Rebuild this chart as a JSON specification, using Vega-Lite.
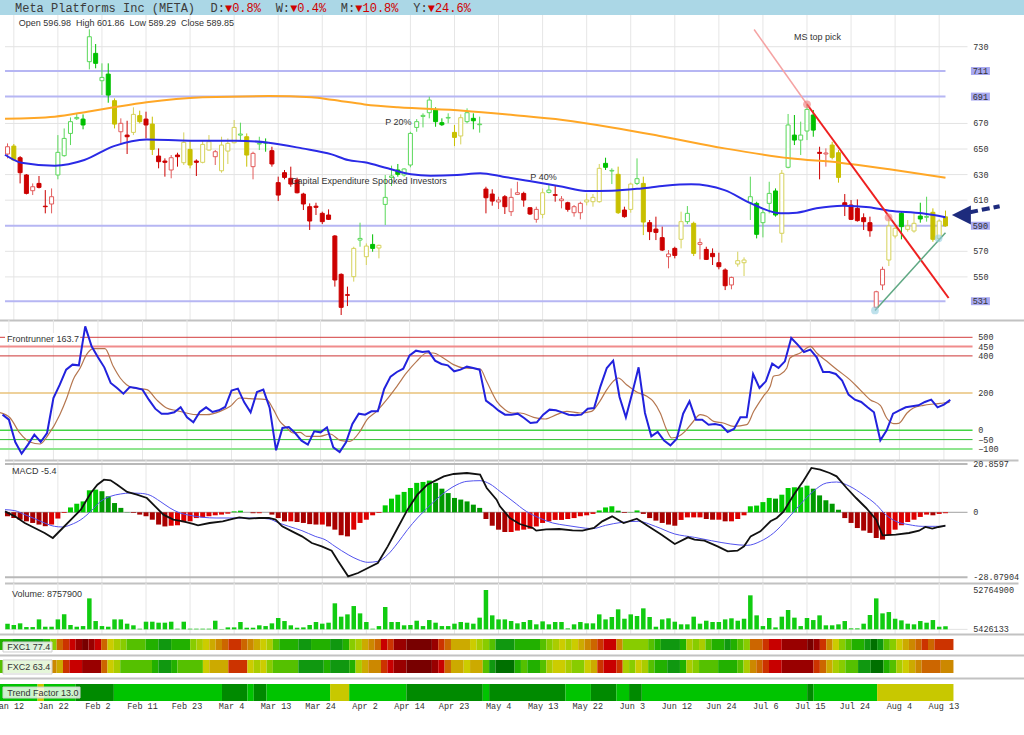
{
"$schema": "https://vega.github.io/schema/vega-lite/v6.json",
"background": "white",
"padding": {"left": -7, "top": 0, "right": 0, "bottom": 0},
"spacing": 0,
"bounds": "flush",
"config": {"view": {"stroke": null}, "font": "Liberation Sans"},
"datasets": {
  "hdr": [{"t": "Meta Platforms Inc (META)", "col": 0}, {"t": "D:", "col": 27}, {"t": "W:", "col": 36}, {"t": "M:", "col": 45}, {"t": "Y:", "col": 55}],
  "hdrRed": [{"t": "▼0.8%", "col": 29}, {"t": "▼0.4%", "col": 38}, {"t": "▼10.8%", "col": 47}, {"t": "▼24.6%", "col": 57}],
  "ticks": [{"i":1,"d":"Jan 12"},{"i":8,"d":"Jan 22"},{"i":15,"d":"Feb 2"},{"i":22,"d":"Feb 11"},{"i":29,"d":"Feb 23"},{"i":36,"d":"Mar 4"},{"i":43,"d":"Mar 13"},{"i":50,"d":"Mar 24"},{"i":57,"d":"Apr 2"},{"i":64,"d":"Apr 14"},{"i":71,"d":"Apr 23"},{"i":78,"d":"May 4"},{"i":85,"d":"May 13"},{"i":92,"d":"May 22"},{"i":99,"d":"Jun 3"},{"i":106,"d":"Jun 12"},{"i":113,"d":"Jun 24"},{"i":120,"d":"Jul 6"},{"i":127,"d":"Jul 15"},{"i":134,"d":"Jul 24"},{"i":141,"d":"Aug 4"},{"i":148,"d":"Aug 13"}],
  "lvl": [{"p": 711}, {"p": 691}, {"p": 590}, {"p": 531}],
  "plab": [{"p": 730}, {"p": 670}, {"p": 650}, {"p": 630}, {"p": 610}, {"p": 570}, {"p": 550}],
  "flab": [{"p": 500}, {"p": 450}, {"p": 400}, {"p": 200}, {"p": 0}, {"p": -50}, {"p": -100}],
  "mlab": [{"p": 20.8597, "t": "20.8597"}, {"p": 0, "t": "0"}, {"p": -28.07904, "t": "-28.07904"}],
  "vlab": [{"p": 52.7649, "t": "52764900"}, {"p": 5.426133, "t": "5426133"}],
  "bars": [
{"i":0,"o":646.1,"h":654.4,"l":642.7,"c":651.8,"k":"r","v":11.9,"m":-1.7,"f":84.1},
{"i":1,"o":652.3,"h":653.9,"l":640.9,"c":641.4,"k":"y","v":10.3,"m":-2.5,"f":57.2},
{"i":2,"o":643.2,"h":644.5,"l":623.1,"c":631.5,"k":"r","v":12.3,"m":-3.2,"f":-62.9},
{"i":3,"o":629.7,"h":630.4,"l":614.5,"c":615.3,"k":"r","v":7.8,"m":-3.9,"f":-125.6},
{"i":4,"o":617.4,"h":623.1,"l":614.0,"c":620.5,"k":"r","v":7.8,"m":-4.6,"f":-77.2},
{"i":5,"o":623.1,"h":628.9,"l":619.2,"c":620.0,"k":"r","v":17.1,"m":-5.3,"f":-23.5},
{"i":6,"o":605.3,"h":617.9,"l":599.7,"c":604.9,"k":"r","v":8.2,"m":-6.0,"f":-62.9},
{"i":7,"o":607.0,"h":619.2,"l":599.7,"c":612.7,"k":"r","v":8.2,"m":-5.3,"f":-14.5},
{"i":8,"o":629.7,"h":660.9,"l":626.3,"c":647.4,"k":"g","v":17.1,"m":-2.7,"f":173.7},
{"i":9,"o":644.8,"h":666.1,"l":644.0,"c":658.3,"k":"g","v":23.2,"m":-0.3,"f":245.4},
{"i":10,"o":662.2,"h":674.7,"l":653.1,"c":671.4,"k":"g","v":10.3,"m":2.1,"f":326.0},
{"i":11,"o":673.7,"h":677.9,"l":672.7,"c":674.7,"k":"g","v":8.2,"m":3.7,"f":352.9},
{"i":12,"o":673.4,"h":677.1,"l":665.4,"c":668.8,"k":"g","v":9.0,"m":4.7,"f":349.3},
{"i":13,"o":718.3,"h":743.6,"l":712.3,"c":737.8,"k":"g","v":42.6,"m":9.5,"f":559.0},
{"i":14,"o":724.8,"h":732.1,"l":713.1,"c":717.0,"k":"g","v":15.1,"m":9.8,"f":451.4},
{"i":15,"o":703.4,"h":717.0,"l":692.2,"c":706.0,"k":"g","v":9.0,"m":9.1,"f":392.3},
{"i":16,"o":708.6,"h":717.0,"l":686.2,"c":692.2,"k":"g","v":8.2,"m":6.9,"f":338.5},
{"i":17,"o":687.8,"h":689.6,"l":666.1,"c":669.5,"k":"y","v":17.1,"m":4.0,"f":254.3},
{"i":18,"o":663.5,"h":674.0,"l":654.4,"c":670.1,"k":"r","v":17.1,"m":1.9,"f":227.4},
{"i":19,"o":660.9,"h":672.1,"l":646.1,"c":659.6,"k":"r","v":11.9,"m":0.1,"f":197.0},
{"i":20,"o":663.0,"h":682.6,"l":660.9,"c":677.1,"k":"y","v":9.9,"m":-0.3,"f":232.8},
{"i":21,"o":676.1,"h":680.0,"l":670.1,"c":671.4,"k":"y","v":5.8,"m":-1.0,"f":227.4},
{"i":22,"o":673.4,"h":679.2,"l":658.3,"c":668.8,"k":"r","v":14.3,"m":-1.7,"f":218.5},
{"i":23,"o":669.5,"h":675.3,"l":645.3,"c":649.7,"k":"y","v":14.3,"m":-3.2,"f":164.7},
{"i":24,"o":644.5,"h":650.5,"l":634.9,"c":640.1,"k":"r","v":13.1,"m":-5.3,"f":116.3},
{"i":25,"o":640.6,"h":642.7,"l":628.4,"c":639.6,"k":"r","v":13.1,"m":-6.1,"f":89.4},
{"i":26,"o":633.6,"h":645.3,"l":627.1,"c":643.2,"k":"r","v":14.3,"m":-5.8,"f":89.4},
{"i":27,"o":645.3,"h":647.1,"l":636.2,"c":644.0,"k":"r","v":5.8,"m":-5.6,"f":96.6},
{"i":28,"o":639.3,"h":663.0,"l":637.5,"c":655.2,"k":"y","v":14.3,"m":-4.3,"f":123.5},
{"i":29,"o":649.7,"h":657.0,"l":634.9,"c":637.5,"k":"y","v":5.8,"m":-3.9,"f":69.7},
{"i":30,"o":640.6,"h":641.9,"l":628.9,"c":639.6,"k":"r","v":5.8,"m":-2.5,"f":42.8},
{"i":31,"o":639.6,"h":657.0,"l":638.8,"c":653.6,"k":"y","v":5.8,"m":-2.2,"f":98.4},
{"i":32,"o":649.2,"h":660.9,"l":648.7,"c":655.7,"k":"y","v":5.8,"m":-1.7,"f":123.5},
{"i":33,"o":644.0,"h":649.2,"l":637.5,"c":647.9,"k":"r","v":15.5,"m":-1.3,"f":98.4},
{"i":34,"o":633.0,"h":659.6,"l":631.5,"c":653.1,"k":"y","v":5.43,"m":-1.0,"f":107.4},
{"i":35,"o":648.4,"h":658.3,"l":638.3,"c":654.4,"k":"y","v":7.4,"m":-0.6,"f":125.3},
{"i":36,"o":654.9,"h":672.7,"l":654.4,"c":666.9,"k":"y","v":7.4,"m":0.4,"f":213.1},
{"i":37,"o":660.9,"h":670.6,"l":656.5,"c":661.7,"k":"g","v":13.9,"m":0.7,"f":223.9},
{"i":38,"o":659.6,"h":662.2,"l":636.2,"c":645.3,"k":"y","v":7.0,"m":0.0,"f":150.4},
{"i":39,"o":636.2,"h":647.9,"l":626.3,"c":646.6,"k":"r","v":7.0,"m":-0.4,"f":96.6},
{"i":40,"o":653.9,"h":659.6,"l":649.2,"c":654.4,"k":"g","v":9.9,"m":-0.4,"f":205.9},
{"i":41,"o":655.2,"h":658.3,"l":647.9,"c":654.7,"k":"g","v":9.0,"m":0.0,"f":218.5},
{"i":42,"o":648.7,"h":651.8,"l":636.2,"c":638.3,"k":"r","v":12.3,"m":-1.0,"f":120.0},
{"i":43,"o":623.7,"h":628.4,"l":609.3,"c":614.0,"k":"r","v":18.8,"m":-2.5,"f":-107.7},
{"i":44,"o":631.5,"h":633.6,"l":626.3,"c":627.8,"k":"r","v":15.1,"m":-3.9,"f":12.4},
{"i":45,"o":627.1,"h":636.2,"l":620.5,"c":622.6,"k":"r","v":9.9,"m":-3.9,"f":17.8},
{"i":46,"o":625.8,"h":627.6,"l":615.3,"c":615.8,"k":"r","v":7.0,"m":-4.2,"f":-14.5},
{"i":47,"o":614.8,"h":615.8,"l":602.3,"c":607.0,"k":"r","v":7.4,"m":-4.6,"f":-55.7},
{"i":48,"o":604.9,"h":607.5,"l":586.7,"c":593.7,"k":"r","v":10.3,"m":-5.1,"f":-77.2},
{"i":49,"o":605.3,"h":608.0,"l":598.4,"c":604.4,"k":"r","v":13.9,"m":-5.3,"f":-5.5},
{"i":50,"o":599.7,"h":601.0,"l":591.3,"c":593.2,"k":"r","v":11.9,"m":-5.3,"f":-10.9},
{"i":51,"o":598.4,"h":602.8,"l":594.5,"c":595.0,"k":"r","v":13.1,"m":-6.1,"f":16.0},
{"i":52,"o":582.0,"h":582.7,"l":542.4,"c":547.6,"k":"r","v":36.6,"m":-7.5,"f":-91.5},
{"i":53,"o":552.0,"h":552.8,"l":520.2,"c":526.2,"k":"r","v":20.4,"m":-9.9,"f":-116.6},
{"i":54,"o":536.1,"h":542.4,"l":527.2,"c":535.6,"k":"r","v":23.2,"m":-10.4,"f":-64.7},
{"i":55,"o":550.2,"h":573.6,"l":546.3,"c":572.3,"k":"y","v":33.3,"m":-7.5,"f":33.8},
{"i":56,"o":578.8,"h":592.4,"l":573.6,"c":580.1,"k":"g","v":24.4,"m":-4.6,"f":89.4},
{"i":57,"o":565.8,"h":576.2,"l":559.3,"c":574.1,"k":"y","v":13.9,"m":-3.2,"f":84.1},
{"i":58,"o":575.4,"h":583.3,"l":569.7,"c":572.3,"k":"g","v":5.8,"m":-1.3,"f":102.0},
{"i":59,"o":572.6,"h":575.2,"l":564.5,"c":574.7,"k":"y","v":9.0,"m":-0.3,"f":102.0},
{"i":60,"o":606.7,"h":629.7,"l":590.6,"c":612.2,"k":"g","v":32.1,"m":3.0,"f":222.1},
{"i":61,"o":627.8,"h":637.0,"l":621.1,"c":628.9,"k":"g","v":13.9,"m":5.9,"f":288.4},
{"i":62,"o":633.6,"h":638.3,"l":628.4,"c":630.2,"k":"g","v":13.9,"m":7.6,"f":313.5},
{"i":63,"o":629.7,"h":634.9,"l":628.4,"c":634.4,"k":"g","v":9.9,"m":8.8,"f":331.4},
{"i":64,"o":637.5,"h":663.5,"l":635.7,"c":662.2,"k":"g","v":10.3,"m":10.5,"f":403.1},
{"i":65,"o":666.9,"h":673.4,"l":663.5,"c":671.4,"k":"g","v":15.5,"m":12.7,"f":428.1},
{"i":66,"o":675.5,"h":677.9,"l":666.9,"c":676.3,"k":"g","v":9.0,"m":13.1,"f":421.0},
{"i":67,"o":678.4,"h":690.9,"l":674.0,"c":688.3,"k":"g","v":16.3,"m":13.7,"f":424.6},
{"i":68,"o":680.5,"h":682.6,"l":667.4,"c":671.4,"k":"g","v":13.1,"m":12.7,"f":374.4},
{"i":69,"o":670.6,"h":674.0,"l":668.0,"c":669.0,"k":"g","v":9.0,"m":10.2,"f":356.5},
{"i":70,"o":674.2,"h":677.9,"l":670.1,"c":674.7,"k":"g","v":9.0,"m":8.3,"f":349.3},
{"i":71,"o":663.0,"h":668.8,"l":652.3,"c":659.1,"k":"y","v":11.9,"m":6.2,"f":317.0},
{"i":72,"o":660.2,"h":677.1,"l":653.6,"c":674.5,"k":"y","v":13.9,"m":5.5,"f":326.0},
{"i":73,"o":671.4,"h":681.8,"l":670.1,"c":678.4,"k":"g","v":13.1,"m":4.7,"f":342.1},
{"i":74,"o":674.0,"h":677.9,"l":665.4,"c":672.1,"k":"g","v":11.9,"m":3.3,"f":335.0},
{"i":75,"o":669.0,"h":675.3,"l":662.8,"c":669.5,"k":"g","v":19.2,"m":1.9,"f":326.0},
{"i":76,"o":618.7,"h":620.5,"l":599.7,"c":611.9,"k":"r","v":52.76,"m":-2.9,"f":159.3},
{"i":77,"o":614.8,"h":618.5,"l":605.7,"c":609.3,"k":"r","v":22.0,"m":-5.8,"f":134.2},
{"i":78,"o":608.6,"h":612.7,"l":603.1,"c":610.1,"k":"r","v":17.1,"m":-7.5,"f":105.6},
{"i":79,"o":612.7,"h":614.0,"l":599.2,"c":604.9,"k":"r","v":17.1,"m":-8.5,"f":84.1},
{"i":80,"o":601.0,"h":619.2,"l":597.6,"c":612.2,"k":"r","v":15.1,"m":-8.5,"f":84.1},
{"i":81,"o":614.5,"h":624.4,"l":614.0,"c":615.8,"k":"r","v":12.3,"m":-7.9,"f":89.4},
{"i":82,"o":615.3,"h":616.6,"l":604.9,"c":610.1,"k":"r","v":13.9,"m":-7.5,"f":66.1},
{"i":83,"o":604.1,"h":604.4,"l":598.4,"c":599.2,"k":"r","v":16.3,"m":-7.1,"f":39.2},
{"i":84,"o":595.0,"h":604.9,"l":592.4,"c":602.8,"k":"r","v":11.1,"m":-6.1,"f":42.8},
{"i":85,"o":598.9,"h":619.2,"l":595.8,"c":615.8,"k":"y","v":14.7,"m":-4.6,"f":84.1},
{"i":86,"o":616.1,"h":621.8,"l":615.3,"c":617.9,"k":"g","v":11.1,"m":-3.9,"f":111.0},
{"i":87,"o":614.3,"h":621.1,"l":608.8,"c":613.8,"k":"r","v":13.9,"m":-3.3,"f":107.4},
{"i":88,"o":609.6,"h":613.2,"l":603.6,"c":610.9,"k":"r","v":13.9,"m":-3.3,"f":96.6},
{"i":89,"o":608.0,"h":608.8,"l":601.0,"c":602.8,"k":"r","v":6.2,"m":-2.9,"f":84.1},
{"i":90,"o":600.2,"h":606.2,"l":597.1,"c":604.9,"k":"r","v":11.1,"m":-2.5,"f":80.5},
{"i":91,"o":600.2,"h":608.8,"l":595.0,"c":607.5,"k":"r","v":13.9,"m":-1.7,"f":84.1},
{"i":92,"o":608.6,"h":615.3,"l":605.9,"c":610.1,"k":"y","v":12.3,"m":-1.3,"f":116.3},
{"i":93,"o":608.8,"h":614.8,"l":604.9,"c":612.2,"k":"y","v":12.3,"m":-0.7,"f":120.0},
{"i":94,"o":608.8,"h":638.3,"l":608.0,"c":634.9,"k":"y","v":23.2,"m":0.8,"f":236.4},
{"i":95,"o":638.8,"h":643.2,"l":633.6,"c":635.7,"k":"g","v":17.1,"m":2.1,"f":334.9},
{"i":96,"o":632.8,"h":634.9,"l":622.6,"c":633.3,"k":"g","v":20.0,"m":2.6,"f":374.4},
{"i":97,"o":630.2,"h":636.2,"l":599.2,"c":600.2,"k":"y","v":29.3,"m":0.7,"f":179.1},
{"i":98,"o":602.3,"h":604.9,"l":596.3,"c":597.1,"k":"r","v":17.9,"m":-0.3,"f":69.7},
{"i":99,"o":602.8,"h":623.7,"l":600.2,"c":622.6,"k":"y","v":23.2,"m":0.1,"f":200.5},
{"i":100,"o":623.1,"h":642.7,"l":621.8,"c":626.8,"k":"g","v":21.2,"m":0.8,"f":338.5},
{"i":101,"o":623.1,"h":628.4,"l":582.7,"c":592.9,"k":"y","v":30.5,"m":-0.7,"f":93.0},
{"i":102,"o":592.4,"h":594.5,"l":578.8,"c":585.4,"k":"r","v":20.0,"m":-2.5,"f":-32.4},
{"i":103,"o":587.4,"h":597.1,"l":578.8,"c":584.8,"k":"r","v":8.2,"m":-3.6,"f":-9.1},
{"i":104,"o":580.7,"h":589.3,"l":570.2,"c":571.0,"k":"r","v":17.1,"m":-4.6,"f":-55.7},
{"i":105,"o":565.8,"h":571.0,"l":556.7,"c":567.9,"k":"r","v":18.4,"m":-5.3,"f":-80.8},
{"i":106,"o":572.3,"h":573.6,"l":564.5,"c":566.8,"k":"r","v":14.3,"m":-5.8,"f":-44.9},
{"i":107,"o":579.4,"h":601.0,"l":572.3,"c":593.2,"k":"y","v":11.1,"m":-3.3,"f":89.4},
{"i":108,"o":593.2,"h":605.4,"l":591.3,"c":599.7,"k":"g","v":11.1,"m":-2.2,"f":155.7},
{"i":109,"o":591.9,"h":593.2,"l":566.3,"c":568.4,"k":"y","v":20.4,"m":-2.2,"f":57.2},
{"i":110,"o":575.4,"h":580.1,"l":563.7,"c":576.8,"k":"r","v":11.9,"m":-2.2,"f":57.2},
{"i":111,"o":571.5,"h":573.6,"l":563.2,"c":563.7,"k":"r","v":15.5,"m":-2.9,"f":30.3},
{"i":112,"o":568.4,"h":572.3,"l":559.3,"c":565.8,"k":"r","v":13.9,"m":-3.2,"f":33.8},
{"i":113,"o":561.1,"h":568.9,"l":555.9,"c":558.0,"k":"r","v":13.9,"m":-3.2,"f":26.7},
{"i":114,"o":555.4,"h":556.7,"l":539.7,"c":543.1,"k":"r","v":17.1,"m":-3.9,"f":-9.1},
{"i":115,"o":543.7,"h":550.2,"l":540.3,"c":549.6,"k":"r","v":18.4,"m":-3.9,"f":7.0},
{"i":116,"o":560.1,"h":569.7,"l":558.0,"c":562.7,"k":"y","v":15.5,"m":-2.9,"f":69.7},
{"i":117,"o":561.1,"h":565.3,"l":550.7,"c":563.2,"k":"y","v":17.9,"m":-1.3,"f":69.7},
{"i":118,"o":608.0,"h":628.4,"l":594.5,"c":612.7,"k":"g","v":46.3,"m":2.6,"f":302.7},
{"i":119,"o":607.5,"h":608.8,"l":580.1,"c":583.3,"k":"g","v":22.0,"m":2.9,"f":227.4},
{"i":120,"o":592.4,"h":602.8,"l":580.9,"c":600.2,"k":"g","v":9.0,"m":4.4,"f":263.3},
{"i":121,"o":607.5,"h":624.4,"l":599.7,"c":615.3,"k":"g","v":18.8,"m":6.2,"f":358.3},
{"i":122,"o":617.2,"h":619.2,"l":597.1,"c":598.4,"k":"g","v":7.4,"m":5.9,"f":334.9},
{"i":123,"o":584.1,"h":633.6,"l":576.8,"c":631.0,"k":"y","v":20.4,"m":7.6,"f":370.8},
{"i":124,"o":635.7,"h":677.4,"l":634.9,"c":668.8,"k":"g","v":28.5,"m":10.5,"f":496.2},
{"i":125,"o":660.9,"h":676.6,"l":653.1,"c":657.0,"k":"g","v":19.2,"m":10.8,"f":460.4},
{"i":126,"o":657.0,"h":671.4,"l":645.3,"c":660.9,"k":"g","v":9.0,"m":10.8,"f":420.9},
{"i":127,"o":664.1,"h":685.7,"l":657.0,"c":681.0,"k":"g","v":18.8,"m":11.5,"f":433.5},
{"i":128,"o":676.6,"h":680.5,"l":659.6,"c":664.8,"k":"g","v":16.3,"m":10.2,"f":392.3},
{"i":129,"o":647.4,"h":651.8,"l":626.3,"c":646.6,"k":"r","v":22.0,"m":7.3,"f":313.5},
{"i":130,"o":646.1,"h":650.5,"l":636.2,"c":646.9,"k":"r","v":9.9,"m":5.2,"f":313.5},
{"i":131,"o":653.1,"h":655.7,"l":641.9,"c":643.5,"k":"y","v":9.9,"m":3.7,"f":302.7},
{"i":132,"o":647.1,"h":649.2,"l":623.7,"c":627.8,"k":"y","v":11.1,"m":1.1,"f":266.9},
{"i":133,"o":608.0,"h":614.8,"l":597.6,"c":606.2,"k":"r","v":15.1,"m":-2.5,"f":191.7},
{"i":134,"o":606.2,"h":610.1,"l":594.5,"c":595.0,"k":"r","v":6.2,"m":-4.6,"f":164.7},
{"i":135,"o":603.6,"h":610.6,"l":593.2,"c":594.0,"k":"r","v":6.2,"m":-6.8,"f":152.2},
{"i":136,"o":596.3,"h":599.7,"l":586.7,"c":593.2,"k":"r","v":11.9,"m":-7.9,"f":123.5},
{"i":137,"o":592.4,"h":597.1,"l":581.4,"c":586.1,"k":"r","v":22.4,"m":-8.9,"f":96.6},
{"i":138,"o":526.2,"h":539.2,"l":524.6,"c":538.4,"k":"r","v":42.6,"m":-11.1,"f":-53.9},
{"i":139,"o":543.7,"h":558.0,"l":539.7,"c":555.9,"k":"r","v":24.4,"m":-11.8,"f":-0.2},
{"i":140,"o":563.2,"h":595.8,"l":558.5,"c":589.8,"k":"y","v":26.0,"m":-9.9,"f":89.4},
{"i":141,"o":582.0,"h":590.6,"l":580.1,"c":588.0,"k":"y","v":17.9,"m":-7.5,"f":107.4},
{"i":142,"o":599.7,"h":601.0,"l":579.4,"c":589.3,"k":"g","v":15.9,"m":-5.6,"f":123.5},
{"i":143,"o":587.2,"h":594.5,"l":585.4,"c":589.8,"k":"y","v":11.9,"m":-4.2,"f":128.9},
{"i":144,"o":585.9,"h":599.7,"l":584.6,"c":591.9,"k":"y","v":11.1,"m":-3.2,"f":134.2},
{"i":145,"o":597.6,"h":608.0,"l":592.4,"c":595.3,"k":"g","v":15.1,"m":-2.0,"f":152.2},
{"i":146,"o":596.6,"h":612.7,"l":593.2,"c":597.3,"k":"g","v":13.1,"m":-1.0,"f":164.7},
{"i":147,"o":600.5,"h":603.6,"l":577.5,"c":579.4,"k":"y","v":16.3,"m":-1.3,"f":123.5},
{"i":148,"o":580.1,"h":595.0,"l":577.5,"c":593.7,"k":"y","v":8.2,"m":-0.7,"f":137.8},
{"i":149,"o":596.98,"h":601.86,"l":589.29,"c":589.85,"k":"y","v":8.76,"m":-0.4,"f":163.7}
  ],
  "ma50": [{"i":-0.4,"v":645.5},{"i":2.2,"v":639.3},{"i":7.5,"v":637.0},{"i":12.2,"v":641.4},{"i":16.9,"v":652.3},{"i":22.1,"v":657.5},{"i":29,"v":656.5},{"i":36.3,"v":656.5},{"i":41.5,"v":654.9},{"i":46.8,"v":650.5},{"i":51.5,"v":645.8},{"i":54.1,"v":641.4},{"i":56.7,"v":639.6},{"i":60.4,"v":634.9},{"i":64.1,"v":630.2},{"i":67.2,"v":629.1},{"i":71.4,"v":629.7},{"i":75.1,"v":631.0},{"i":78.7,"v":628.4},{"i":82.9,"v":625.0},{"i":88.2,"v":620.5},{"i":91.8,"v":617.2},{"i":96.0,"v":617.4},{"i":100.7,"v":619.2},{"i":104.4,"v":621.3},{"i":108.6,"v":622.4},{"i":113.9,"v":617.9},{"i":118.1,"v":607.5},{"i":122.8,"v":599.7},{"i":125.4,"v":600.2},{"i":128.5,"v":603.6},{"i":132.7,"v":605.7},{"i":136.9,"v":604.4},{"i":140.1,"v":601.8},{"i":145.3,"v":599.7},{"i":149,"v":596.6}],
  "ma200": [{"i":-0.4,"v":673.7},{"i":7.5,"v":675.3},{"i":12.7,"v":679.2},{"i":16.9,"v":682.6},{"i":22.1,"v":686.5},{"i":31.0,"v":690.4},{"i":41.5,"v":691.4},{"i":48.3,"v":690.4},{"i":51.5,"v":688.5},{"i":56.7,"v":684.9},{"i":62.0,"v":682.6},{"i":72.4,"v":680.0},{"i":80.3,"v":676.6},{"i":88.2,"v":672.7},{"i":96.0,"v":666.9},{"i":103.4,"v":660.4},{"i":113.9,"v":650.5},{"i":124.3,"v":642.7},{"i":132.2,"v":639.3},{"i":140.1,"v":634.1},{"i":149.0,"v":627.6}],
  "tl": [{"g":"pink","i":118.6,"v":743.5},{"g":"pink","i":127.0,"v":685},{"g":"red","i":127.0,"v":685},{"g":"red","i":149.5,"v":533.5},{"g":"green","i":137.8,"v":523.8},{"g":"green","i":149.0,"v":584.6}],
  "dots": [{"g":"r","i":127.0,"v":685},{"g":"r","i":139.96,"v":596.5},{"g":"b","i":137.8,"v":523.8},{"g":"b","i":147.9,"v":580.2}],
  "notes": [{"t":"Open 596.98 \u00a0High 601.86 \u00a0Low 589.29 \u00a0Close 589.85","i":1.8,"p":748.5},{"t":"MS top pick","i":124.95,"p":737.8},{"t":"P 20%","i":60.0,"p":671.4},{"t":"P 40%","i":83.05,"p":628.0},{"t":"Capital Expenditure Spooked Investors","i":45.04,"p":625.0}],
  "frs": [{"i":-0.4,"v":95},{"i":1.2,"v":66.2},{"i":2.7,"v":-14.5},{"i":4.3,"v":-62.9},{"i":5.9,"v":-73.6},{"i":7.2,"v":-23.5},{"i":9.0,"v":84.1},{"i":10.1,"v":173.7},{"i":11.1,"v":272.2},{"i":12.2,"v":334.9},{"i":13.2,"v":406.6},{"i":14.3,"v":438.9},{"i":16.1,"v":438.9},{"i":17.4,"v":343.9},{"i":18.5,"v":281.2},{"i":19.5,"v":245.4},{"i":20.6,"v":227.4},{"i":22.7,"v":218.5},{"i":24.2,"v":164.7},{"i":25.8,"v":119.9},{"i":27.4,"v":105.6},{"i":28.9,"v":93.0},{"i":30.5,"v":84.1},{"i":32.1,"v":84.1},{"i":34.2,"v":102.0},{"i":35.8,"v":128.9},{"i":37.3,"v":173.7},{"i":38.9,"v":170.1},{"i":41.5,"v":164.7},{"i":42.6,"v":110.9},{"i":43.6,"v":48.2},{"i":44.7,"v":12.4},{"i":45.7,"v":-14.5},{"i":46.8,"v":-10.9},{"i":47.8,"v":-32.4},{"i":49.9,"v":-32.4},{"i":51.5,"v":-19.9},{"i":53.1,"v":-53.9},{"i":54.6,"v":-59.3},{"i":56.2,"v":-5.5},{"i":57.3,"v":57.2},{"i":58.8,"v":102.0},{"i":60.4,"v":164.7},{"i":62.0,"v":236.4},{"i":63.5,"v":308.1},{"i":65.1,"v":370.8},{"i":66.7,"v":415.6},{"i":67.7,"v":415.6},{"i":69.3,"v":388.7},{"i":70.9,"v":352.9},{"i":72.5,"v":334.9},{"i":75.1,"v":329.6},{"i":76.1,"v":263.3},{"i":77.7,"v":155.7},{"i":79.0,"v":110.9},{"i":80.1,"v":93.0},{"i":81.4,"v":93.0},{"i":83.5,"v":69.7},{"i":85.3,"v":60.7},{"i":87.1,"v":84.1},{"i":88.7,"v":102.0},{"i":90.8,"v":93.0},{"i":92.6,"v":102.0},{"i":93.9,"v":155.7},{"i":95.0,"v":218.5},{"i":96.0,"v":263.3},{"i":96.8,"v":281.2},{"i":98.1,"v":245.4},{"i":99.7,"v":206.0},{"i":101.3,"v":182.7},{"i":102.3,"v":155.7},{"i":103.4,"v":93.0},{"i":104.4,"v":3.4},{"i":105.2,"v":-41.4},{"i":106.3,"v":-32.4},{"i":107.3,"v":-5.5},{"i":108.4,"v":39.3},{"i":109.7,"v":84.1},{"i":110.7,"v":75.1},{"i":111.8,"v":48.2},{"i":113.3,"v":39.3},{"i":114.9,"v":21.4},{"i":117.0,"v":30.3},{"i":118.1,"v":102.0},{"i":119.6,"v":182.7},{"i":120.7,"v":236.4},{"i":121.2,"v":290.2},{"i":122.2,"v":299.1},{"i":123.3,"v":335.0},{"i":123.8,"v":388.7},{"i":125.4,"v":415.6},{"i":127.0,"v":451.4},{"i":128.0,"v":415.6},{"i":129.6,"v":370.8},{"i":131.2,"v":326.0},{"i":133.2,"v":272.2},{"i":134.8,"v":218.5},{"i":136.4,"v":164.7},{"i":138.0,"v":134.2},{"i":139.0,"v":66.2},{"i":140.1,"v":35.7},{"i":140.9,"v":37.5},{"i":142.2,"v":93.0},{"i":143.2,"v":119.9},{"i":144.8,"v":134.2},{"i":146.4,"v":141.4},{"i":147.9,"v":146.8},{"i":148.9,"v":150.4}],
  "macd": [{"i":-0.4,"v":0.4},{"i":1.17,"v":-1.74},{"i":2.74,"v":-4.6},{"i":4.32,"v":-6.78},{"i":5.89,"v":-8.94},{"i":7.2,"v":-11.1},{"i":8.77,"v":-6.78},{"i":10.08,"v":-3.18},{"i":11.65,"v":1.14},{"i":13.23,"v":8.33},{"i":14.28,"v":11.93},{"i":15.32,"v":14.09},{"i":16.37,"v":13.8},{"i":17.42,"v":11.93},{"i":19.0,"v":8.77},{"i":20.56,"v":7.61},{"i":22.14,"v":6.17},{"i":23.45,"v":2.58},{"i":24.76,"v":-1.02},{"i":26.33,"v":-3.18},{"i":27.9,"v":-3.9},{"i":29.47,"v":-5.05},{"i":30.26,"v":-5.63},{"i":32.1,"v":-4.62},{"i":34.19,"v":-3.9},{"i":35.76,"v":-2.89},{"i":36.81,"v":-2.17},{"i":38.38,"v":-2.75},{"i":39.96,"v":-2.46},{"i":41.53,"v":-2.46},{"i":42.58,"v":-3.18},{"i":43.63,"v":-6.06},{"i":45.2,"v":-8.22},{"i":46.77,"v":-10.38},{"i":48.34,"v":-13.26},{"i":49.91,"v":-14.7},{"i":51.49,"v":-16.57},{"i":52.53,"v":-21.17},{"i":54.11,"v":-27.65},{"i":55.68,"v":-26.21},{"i":57.25,"v":-24.05},{"i":58.82,"v":-21.89},{"i":60.4,"v":-14.7},{"i":61.97,"v":-6.78},{"i":63.54,"v":1.14},{"i":65.11,"v":7.61},{"i":66.69,"v":11.93},{"i":67.73,"v":13.37},{"i":69.31,"v":15.53},{"i":70.88,"v":16.54},{"i":72.98,"v":16.97},{"i":75.07,"v":16.25},{"i":76.12,"v":10.49},{"i":77.69,"v":5.45},{"i":78.22,"v":2.58},{"i":79.79,"v":-2.46},{"i":81.36,"v":-5.05},{"i":83.46,"v":-6.78},{"i":83.99,"v":-7.93},{"i":85.56,"v":-7.35},{"i":87.65,"v":-7.21},{"i":89.75,"v":-7.79},{"i":91.32,"v":-7.93},{"i":93.16,"v":-6.78},{"i":94.47,"v":-3.9},{"i":96.04,"v":-1.74},{"i":97.87,"v":-4.62},{"i":99.97,"v":-2.75},{"i":101.8,"v":-6.06},{"i":103.9,"v":-9.66},{"i":106.0,"v":-13.69},{"i":108.1,"v":-10.81},{"i":109.14,"v":-11.82},{"i":110.7,"v":-12.25},{"i":112.8,"v":-14.7},{"i":114.4,"v":-16.86},{"i":115.96,"v":-16.57},{"i":117.0,"v":-14.7},{"i":118.05,"v":-10.38},{"i":119.6,"v":-8.22},{"i":121.2,"v":-3.9},{"i":122.2,"v":-2.46},{"i":123.3,"v":0.42},{"i":124.9,"v":7.61},{"i":126.4,"v":13.37},{"i":127.7,"v":19.13},{"i":129.1,"v":18.41},{"i":130.6,"v":16.97},{"i":131.7,"v":15.53},{"i":133.3,"v":10.49},{"i":134.8,"v":6.17},{"i":136.4,"v":1.86},{"i":138.0,"v":-3.18},{"i":139.0,"v":-9.95},{"i":141.1,"v":-9.66},{"i":143.2,"v":-8.94},{"i":144.8,"v":-7.93},{"i":145.8,"v":-6.35},{"i":146.9,"v":-7.07},{"i":147.9,"v":-6.35},{"i":149.0,"v":-5.8}],
  "sig": [{"i":-0.4,"v":1.14},{"i":1.17,"v":0.71},{"i":2.74,"v":-1.02},{"i":4.32,"v":-2.75},{"i":5.89,"v":-4.62},{"i":7.46,"v":-6.06},{"i":8.77,"v":-6.35},{"i":10.08,"v":-5.34},{"i":11.65,"v":-3.18},{"i":13.23,"v":0.42},{"i":14.8,"v":4.74},{"i":16.37,"v":6.9},{"i":17.94,"v":7.9},{"i":19.52,"v":8.33},{"i":21.09,"v":8.19},{"i":22.66,"v":7.33},{"i":24.23,"v":4.74},{"i":25.8,"v":1.86},{"i":27.38,"v":-0.3},{"i":28.95,"v":-1.3},{"i":31.05,"v":-2.17},{"i":33.14,"v":-2.46},{"i":35.24,"v":-2.46},{"i":37.34,"v":-2.46},{"i":39.43,"v":-2.46},{"i":41.53,"v":-2.89},{"i":43.1,"v":-4.62},{"i":44.67,"v":-6.06},{"i":46.77,"v":-7.93},{"i":48.87,"v":-10.38},{"i":50.44,"v":-11.82},{"i":52.01,"v":-14.7},{"i":54.11,"v":-18.3},{"i":55.68,"v":-20.45},{"i":57.25,"v":-21.6},{"i":58.82,"v":-21.17},{"i":60.4,"v":-18.3},{"i":61.97,"v":-13.26},{"i":63.54,"v":-7.5},{"i":65.11,"v":-2.46},{"i":66.69,"v":1.86},{"i":68.26,"v":5.89},{"i":69.83,"v":9.34},{"i":71.4,"v":11.93},{"i":72.98,"v":13.37},{"i":75.07,"v":13.66},{"i":76.64,"v":12.22},{"i":78.22,"v":9.05},{"i":80.3,"v":4.74},{"i":82.4,"v":0.42},{"i":84.5,"v":-2.46},{"i":86.6,"v":-4.62},{"i":88.7,"v":-5.63},{"i":90.8,"v":-6.49},{"i":92.9,"v":-7.07},{"i":95.0,"v":-5.63},{"i":97.6,"v":-4.33},{"i":100.2,"v":-3.9},{"i":102.9,"v":-6.06},{"i":106.0,"v":-9.37},{"i":109.1,"v":-10.81},{"i":111.8,"v":-12.25},{"i":114.9,"v":-13.69},{"i":117.5,"v":-14.27},{"i":119.6,"v":-12.54},{"i":121.7,"v":-8.94},{"i":123.8,"v":-3.18},{"i":125.9,"v":3.3},{"i":128.0,"v":9.05},{"i":130.1,"v":12.65},{"i":131.7,"v":13.08},{"i":133.8,"v":11.21},{"i":135.9,"v":7.61},{"i":138.0,"v":3.3},{"i":139.5,"v":-1.02},{"i":141.1,"v":-3.9},{"i":143.2,"v":-5.34},{"i":145.3,"v":-6.06},{"i":147.4,"v":-6.06},{"i":148.9,"v":-6.06}],
  "fx1": [{"s":-0.4,"e":1.5,"v":11},{"s":1.5,"e":6.5,"v":12},{"s":6.5,"e":7.5,"v":11},{"s":7.5,"e":8.5,"v":9},{"s":8.5,"e":9.5,"v":4},{"s":9.5,"e":10.5,"v":3},{"s":10.5,"e":11.5,"v":2},{"s":11.5,"e":12.5,"v":1},{"s":12.5,"e":13.5,"v":0},{"s":13.5,"e":14.5,"v":1},{"s":14.5,"e":15.5,"v":2},{"s":15.5,"e":16.5,"v":4},{"s":16.5,"e":17.5,"v":7},{"s":17.5,"e":18.5,"v":8},{"s":18.5,"e":19.5,"v":9},{"s":19.5,"e":22.5,"v":10},{"s":22.5,"e":24.5,"v":11},{"s":24.5,"e":26.5,"v":12},{"s":26.5,"e":29.5,"v":11},{"s":29.5,"e":30.5,"v":9},{"s":30.5,"e":31.5,"v":8},{"s":31.5,"e":32.5,"v":7},{"s":32.5,"e":33.5,"v":6},{"s":33.5,"e":34.5,"v":5},{"s":34.5,"e":35.5,"v":4},{"s":35.5,"e":37.5,"v":3},{"s":37.5,"e":38.5,"v":4},{"s":38.5,"e":39.5,"v":5},{"s":39.5,"e":40.5,"v":6},{"s":40.5,"e":41.5,"v":7},{"s":41.5,"e":42.5,"v":8},{"s":42.5,"e":43.5,"v":10},{"s":43.5,"e":46.5,"v":11},{"s":46.5,"e":48.5,"v":12},{"s":48.5,"e":51.5,"v":11},{"s":51.5,"e":53.5,"v":12},{"s":53.5,"e":54.5,"v":11},{"s":54.5,"e":55.5,"v":9},{"s":55.5,"e":56.5,"v":8},{"s":56.5,"e":57.5,"v":6},{"s":57.5,"e":58.5,"v":5},{"s":58.5,"e":59.5,"v":4},{"s":59.5,"e":60.5,"v":2},{"s":60.5,"e":61.5,"v":3},{"s":61.5,"e":63.5,"v":1},{"s":63.5,"e":67.5,"v":0},{"s":67.5,"e":68.5,"v":1},{"s":68.5,"e":69.5,"v":3},{"s":69.5,"e":70.5,"v":4},{"s":70.5,"e":73.5,"v":6},{"s":73.5,"e":74.5,"v":7},{"s":74.5,"e":75.5,"v":8},{"s":75.5,"e":76.5,"v":9},{"s":76.5,"e":77.5,"v":10},{"s":77.5,"e":80.5,"v":12},{"s":80.5,"e":84.5,"v":11},{"s":84.5,"e":85.5,"v":10},{"s":85.5,"e":86.5,"v":9},{"s":86.5,"e":87.5,"v":8},{"s":87.5,"e":88.5,"v":7},{"s":88.5,"e":89.5,"v":8},{"s":89.5,"e":90.5,"v":7},{"s":90.5,"e":91.5,"v":6},{"s":91.5,"e":92.5,"v":5},{"s":92.5,"e":93.5,"v":4},{"s":93.5,"e":94.5,"v":3},{"s":94.5,"e":96.5,"v":2},{"s":96.5,"e":97.5,"v":5},{"s":97.5,"e":101.5,"v":9},{"s":101.5,"e":102.5,"v":10},{"s":102.5,"e":103.5,"v":11},{"s":103.5,"e":106.5,"v":12},{"s":106.5,"e":107.5,"v":11},{"s":107.5,"e":108.5,"v":8},{"s":108.5,"e":109.5,"v":9},{"s":109.5,"e":110.5,"v":8},{"s":110.5,"e":111.5,"v":10},{"s":111.5,"e":113.5,"v":11},{"s":113.5,"e":114.5,"v":12},{"s":114.5,"e":115.5,"v":11},{"s":115.5,"e":116.5,"v":10},{"s":116.5,"e":117.5,"v":9},{"s":117.5,"e":119.5,"v":4},{"s":119.5,"e":120.5,"v":3},{"s":120.5,"e":122.5,"v":2},{"s":122.5,"e":126.5,"v":1},{"s":126.5,"e":127.5,"v":0},{"s":127.5,"e":128.5,"v":1},{"s":128.5,"e":129.5,"v":3},{"s":129.5,"e":130.5,"v":5},{"s":130.5,"e":131.5,"v":7},{"s":131.5,"e":132.5,"v":9},{"s":132.5,"e":133.5,"v":10},{"s":133.5,"e":135.5,"v":11},{"s":135.5,"e":136.5,"v":12},{"s":136.5,"e":137.5,"v":13},{"s":137.5,"e":138.5,"v":12},{"s":138.5,"e":139.5,"v":10},{"s":139.5,"e":140.5,"v":9},{"s":140.5,"e":141.5,"v":7},{"s":141.5,"e":142.5,"v":6},{"s":142.5,"e":143.5,"v":5},{"s":143.5,"e":144.5,"v":4},{"s":144.5,"e":145.5,"v":3},{"s":145.5,"e":146.5,"v":4},{"s":146.5,"e":149.5,"v":3}],
  "fx2": [{"s":-0.4,"e":7.5,"v":10},{"s":7.5,"e":8.5,"v":5},{"s":8.5,"e":9.5,"v":6},{"s":9.5,"e":10.5,"v":3},{"s":10.5,"e":12.5,"v":2},{"s":12.5,"e":15.5,"v":1},{"s":15.5,"e":16.5,"v":4},{"s":16.5,"e":17.5,"v":7},{"s":17.5,"e":18.5,"v":8},{"s":18.5,"e":23.5,"v":10},{"s":23.5,"e":24.5,"v":11},{"s":24.5,"e":26.5,"v":12},{"s":26.5,"e":27.5,"v":11},{"s":27.5,"e":31.5,"v":10},{"s":31.5,"e":32.5,"v":7},{"s":32.5,"e":35.5,"v":6},{"s":35.5,"e":38.5,"v":3},{"s":38.5,"e":39.5,"v":7},{"s":39.5,"e":40.5,"v":8},{"s":40.5,"e":41.5,"v":7},{"s":41.5,"e":42.5,"v":9},{"s":42.5,"e":46.5,"v":10},{"s":46.5,"e":50.5,"v":12},{"s":50.5,"e":51.5,"v":11},{"s":51.5,"e":54.5,"v":12},{"s":54.5,"e":55.5,"v":11},{"s":55.5,"e":56.5,"v":8},{"s":56.5,"e":57.5,"v":6},{"s":57.5,"e":59.5,"v":5},{"s":59.5,"e":60.5,"v":3},{"s":60.5,"e":61.5,"v":2},{"s":61.5,"e":63.5,"v":1},{"s":63.5,"e":67.5,"v":0},{"s":67.5,"e":68.5,"v":1},{"s":68.5,"e":69.5,"v":2},{"s":69.5,"e":70.5,"v":4},{"s":70.5,"e":72.5,"v":6},{"s":72.5,"e":73.5,"v":7},{"s":73.5,"e":75.5,"v":6},{"s":75.5,"e":76.5,"v":10},{"s":76.5,"e":77.5,"v":12},{"s":77.5,"e":80.5,"v":13},{"s":80.5,"e":81.5,"v":11},{"s":81.5,"e":82.5,"v":10},{"s":82.5,"e":84.5,"v":11},{"s":84.5,"e":85.5,"v":10},{"s":85.5,"e":86.5,"v":8},{"s":86.5,"e":88.5,"v":7},{"s":88.5,"e":89.5,"v":8},{"s":89.5,"e":91.5,"v":9},{"s":91.5,"e":92.5,"v":7},{"s":92.5,"e":93.5,"v":6},{"s":93.5,"e":94.5,"v":3},{"s":94.5,"e":96.5,"v":2},{"s":96.5,"e":97.5,"v":3},{"s":97.5,"e":98.5,"v":8},{"s":98.5,"e":99.5,"v":9},{"s":99.5,"e":100.5,"v":7},{"s":100.5,"e":101.5,"v":8},{"s":101.5,"e":102.5,"v":10},{"s":102.5,"e":104.5,"v":11},{"s":104.5,"e":106.5,"v":12},{"s":106.5,"e":107.5,"v":11},{"s":107.5,"e":108.5,"v":8},{"s":108.5,"e":109.5,"v":9},{"s":109.5,"e":112.5,"v":10},{"s":112.5,"e":115.5,"v":11},{"s":115.5,"e":116.5,"v":10},{"s":116.5,"e":117.5,"v":8},{"s":117.5,"e":118.5,"v":5},{"s":118.5,"e":119.5,"v":4},{"s":119.5,"e":120.5,"v":3},{"s":120.5,"e":122.5,"v":2},{"s":122.5,"e":127.5,"v":1},{"s":127.5,"e":128.5,"v":3},{"s":128.5,"e":129.5,"v":4},{"s":129.5,"e":130.5,"v":6},{"s":130.5,"e":131.5,"v":8},{"s":131.5,"e":132.5,"v":9},{"s":132.5,"e":134.5,"v":10},{"s":134.5,"e":136.5,"v":12},{"s":136.5,"e":138.5,"v":13},{"s":138.5,"e":139.5,"v":11},{"s":139.5,"e":140.5,"v":10},{"s":140.5,"e":141.5,"v":8},{"s":141.5,"e":142.5,"v":7},{"s":142.5,"e":143.5,"v":6},{"s":143.5,"e":144.5,"v":5},{"s":144.5,"e":147.5,"v":4},{"s":147.5,"e":149.5,"v":5}],
  "tf": [{"s":-0.4,"e":5.5,"v":11},{"s":5.5,"e":6.5,"v":7},{"s":6.5,"e":11.5,"v":11},{"s":11.5,"e":17.5,"v":12},{"s":17.5,"e":34.5,"v":11},{"s":34.5,"e":38.5,"v":12},{"s":38.5,"e":39.5,"v":11},{"s":39.5,"e":41.5,"v":12},{"s":41.5,"e":51.5,"v":11},{"s":51.5,"e":54.5,"v":7},{"s":54.5,"e":63.5,"v":11},{"s":63.5,"e":75.5,"v":12},{"s":75.5,"e":76.5,"v":11},{"s":76.5,"e":88.5,"v":12},{"s":88.5,"e":92.5,"v":11},{"s":92.5,"e":96.5,"v":12},{"s":96.5,"e":98.5,"v":11},{"s":98.5,"e":100.5,"v":12},{"s":100.5,"e":126.5,"v":11},{"s":126.5,"e":127.5,"v":12},{"s":127.5,"e":137.5,"v":11},{"s":137.5,"e":149.5,"v":7}]
},
"vconcat": [
  {
    "width": 970, "height": 15,
    "data": {"values": [{}]},
    "layer": [
      {"mark": {"type": "rect", "color": "#abd7e6"},
       "encoding": {"x": {"datum": -2.072, "type": "quantitative", "scale": {"domain": [-2.072, 131.9], "nice": false, "zero": false}, "axis": null}, "x2": {"datum": 139.4}}},
      {"data": {"name": "hdr"}, "mark": {"type": "text", "align": "left", "baseline": "middle", "font": "Liberation Mono", "fontSize": 12, "color": "#3c3c3c"},
       "encoding": {"x": {"field": "col", "type": "quantitative", "axis": null}, "text": {"field": "t"}}},
      {"data": {"name": "hdrRed"}, "mark": {"type": "text", "align": "left", "baseline": "middle", "font": "Liberation Mono", "fontSize": 12, "color": "#d00000"},
       "encoding": {"x": {"field": "col", "type": "quantitative", "axis": null}, "text": {"field": "t"}}}
    ]
  },
  {
    "width": 970, "height": 305,
    "data": {"values": [{}]},
    "layer": [
      {"data": {"name": "ticks"}, "mark": {"type": "rule", "color": "#e6e6e6", "strokeWidth": 1},
       "encoding": {"x": {"field": "i", "type": "quantitative", "scale": {"domain": [-0.4, 152.1], "nice": false, "zero": false}, "axis": null}}},
      {"data": {"name": "plab"}, "mark": {"type": "rule", "color": "#e3e3e3", "strokeWidth": 1},
       "encoding": {"x": {"datum": -0.4, "axis": null}, "x2": {"datum": 152.5},
         "y": {"field": "p", "type": "quantitative", "scale": {"domain": [516.3, 754.8], "nice": false, "zero": false}, "axis": null}}},
      {"data": {"name": "plab"}, "mark": {"type": "text", "align": "left", "baseline": "middle", "font": "Liberation Mono", "fontSize": 8.5, "color": "#333333"},
       "encoding": {"x": {"datum": 153.4, "axis": null}, "y": {"field": "p", "type": "quantitative", "axis": null}, "text": {"field": "p", "type": "quantitative"}}},
      {"data": {"name": "lvl"}, "mark": {"type": "rule", "color": "#b6b6f3", "strokeWidth": 2},
       "encoding": {"x": {"datum": -0.4, "axis": null}, "x2": {"datum": 149}, "y": {"field": "p", "type": "quantitative", "axis": null}}},
      {"data": {"name": "bars"}, "transform": [{"filter": "datum.c >= datum.o"}], "mark": {"type": "rule", "strokeWidth": 1},
       "encoding": {"x": {"field": "i", "type": "quantitative", "axis": null}, "y": {"field": "l", "type": "quantitative", "axis": null}, "y2": {"field": "h"},
         "color": {"condition": [{"test": "datum.k === 'g'", "value": "#5ad85a"}, {"test": "datum.k === 'r'", "value": "#e25c5c"}], "value": "#d6d25a"}}},
      {"data": {"name": "bars"}, "transform": [{"filter": "datum.c < datum.o"}], "mark": {"type": "rule", "strokeWidth": 1},
       "encoding": {"x": {"field": "i", "type": "quantitative", "axis": null}, "y": {"field": "l", "type": "quantitative", "axis": null}, "y2": {"field": "h"},
         "color": {"condition": [{"test": "datum.k === 'g'", "value": "#00c000"}, {"test": "datum.k === 'r'", "value": "#cc0000"}], "value": "#c8c000"}}},
      {"data": {"name": "bars"}, "transform": [{"filter": "datum.c >= datum.o"}], "mark": {"type": "bar", "width": 4, "fill": "white", "strokeWidth": 1},
       "encoding": {"x": {"field": "i", "type": "quantitative", "axis": null}, "y": {"field": "o", "type": "quantitative", "axis": null}, "y2": {"field": "c"},
         "stroke": {"condition": [{"test": "datum.k === 'g'", "value": "#5ad85a"}, {"test": "datum.k === 'r'", "value": "#e25c5c"}], "value": "#d6d25a"}}},
      {"data": {"name": "bars"}, "transform": [{"filter": "datum.c < datum.o"}], "mark": {"type": "bar", "width": 4, "strokeWidth": 1},
       "encoding": {"x": {"field": "i", "type": "quantitative", "axis": null}, "y": {"field": "o", "type": "quantitative", "axis": null}, "y2": {"field": "c"},
         "fill": {"condition": [{"test": "datum.k === 'g'", "value": "#00c000"}, {"test": "datum.k === 'r'", "value": "#cc0000"}], "value": "#c8c000"},
         "stroke": {"condition": [{"test": "datum.k === 'g'", "value": "#00c000"}, {"test": "datum.k === 'r'", "value": "#cc0000"}], "value": "#c8c000"}}},
      {"data": {"name": "ma200"}, "mark": {"type": "line", "color": "#ffa726", "strokeWidth": 2, "interpolate": "monotone"},
       "encoding": {"x": {"field": "i", "type": "quantitative", "axis": null}, "y": {"field": "v", "type": "quantitative", "axis": null}}},
      {"data": {"name": "ma50"}, "mark": {"type": "line", "color": "#2a2ae6", "strokeWidth": 2, "interpolate": "monotone"},
       "encoding": {"x": {"field": "i", "type": "quantitative", "axis": null}, "y": {"field": "v", "type": "quantitative", "axis": null}}},
      {"data": {"name": "tl"}, "transform": [{"filter": "datum.g === 'pink'"}], "mark": {"type": "line", "color": "#f5a3a3", "strokeWidth": 1.5},
       "encoding": {"x": {"field": "i", "type": "quantitative", "axis": null}, "y": {"field": "v", "type": "quantitative", "axis": null}}},
      {"data": {"name": "tl"}, "transform": [{"filter": "datum.g === 'red'"}], "mark": {"type": "line", "color": "#ee2020", "strokeWidth": 2},
       "encoding": {"x": {"field": "i", "type": "quantitative", "axis": null}, "y": {"field": "v", "type": "quantitative", "axis": null}}},
      {"data": {"name": "tl"}, "transform": [{"filter": "datum.g === 'green'"}], "mark": {"type": "line", "color": "#5fa883", "strokeWidth": 1.5},
       "encoding": {"x": {"field": "i", "type": "quantitative", "axis": null}, "y": {"field": "v", "type": "quantitative", "axis": null}}},
      {"data": {"name": "dots"}, "mark": {"type": "point", "filled": true, "size": 60, "opacity": 0.6},
       "encoding": {"x": {"field": "i", "type": "quantitative", "axis": null}, "y": {"field": "v", "type": "quantitative", "axis": null},
         "color": {"condition": {"test": "datum.g === 'r'", "value": "#f07c7c"}, "value": "#93cde0"}}},
      {"data": {"name": "notes"}, "mark": {"type": "text", "align": "left", "baseline": "middle", "fontSize": 9, "color": "#333333"},
       "encoding": {"x": {"field": "i", "type": "quantitative", "axis": null}, "y": {"field": "p", "type": "quantitative", "axis": null}, "text": {"field": "t"}}},
      {"data": {"name": "lvl"}, "mark": {"type": "point", "shape": "M-1,-0.42L1,-0.42L1,0.42L-1,0.42Z", "size": 361, "filled": true, "color": "#a9a9f0", "opacity": 1},
       "encoding": {"x": {"datum": 154.55, "axis": null}, "y": {"field": "p", "type": "quantitative", "axis": null}}},
      {"data": {"name": "lvl"}, "mark": {"type": "text", "align": "center", "baseline": "middle", "font": "Liberation Mono", "fontSize": 8.5, "color": "#333333"},
       "encoding": {"x": {"datum": 154.55, "axis": null}, "y": {"field": "p", "type": "quantitative", "axis": null}, "text": {"field": "p", "type": "quantitative"}}},
      {"mark": {"type": "rule", "color": "#1d2b7d", "strokeWidth": 4, "strokeDash": [8, 4]},
       "encoding": {"x": {"datum": 152.9, "axis": null}, "x2": {"datum": 157.6}, "y": {"datum": 600.6, "axis": null}, "y2": {"datum": 605.3}}},
      {"mark": {"type": "point", "shape": "M-1,0L1,-1L1,1Z", "size": 361, "filled": true, "color": "#1d2b7d", "opacity": 1},
       "encoding": {"x": {"datum": 151.52, "axis": null}, "y": {"datum": 598.4, "axis": null}}}
    ]
  },
  {
    "width": 970, "height": 140,
    "data": {"values": [{}]},
    "layer": [
      {"mark": {"type": "rule", "color": "#c2c2c2", "strokeWidth": 2},
       "encoding": {"x": {"datum": -0.4, "scale": {"domain": [-0.4, 152.1], "nice": false, "zero": false}, "axis": null}, "x2": {"datum": 160.6},
         "y": {"datum": 590.3, "scale": {"domain": [-159.7, 593.0], "nice": false, "zero": false}, "axis": null}}},
      {"data": {"name": "ticks"}, "mark": {"type": "rule", "color": "#e6e6e6", "strokeWidth": 1},
       "encoding": {"x": {"field": "i", "type": "quantitative", "axis": null}}},
      {"mark": {"type": "rule", "color": "#d23c3c", "strokeWidth": 1}, "encoding": {"x": {"datum": -0.4, "axis": null}, "x2": {"datum": 152.5}, "y": {"datum": 500, "axis": null}}},
      {"mark": {"type": "rule", "color": "#f08c8c", "strokeWidth": 2}, "encoding": {"x": {"datum": -0.4, "axis": null}, "x2": {"datum": 152.5}, "y": {"datum": 450, "axis": null}}},
      {"mark": {"type": "rule", "color": "#cc3333", "strokeWidth": 1}, "encoding": {"x": {"datum": -0.4, "axis": null}, "x2": {"datum": 152.5}, "y": {"datum": 400, "axis": null}}},
      {"mark": {"type": "rule", "color": "#e9c27a", "strokeWidth": 1.5}, "encoding": {"x": {"datum": -0.4, "axis": null}, "x2": {"datum": 152.5}, "y": {"datum": 200, "axis": null}}},
      {"mark": {"type": "rule", "color": "#44d444", "strokeWidth": 1.5}, "encoding": {"x": {"datum": -0.4, "axis": null}, "x2": {"datum": 152.5}, "y": {"datum": 0, "axis": null}}},
      {"mark": {"type": "rule", "color": "#2fbf2f", "strokeWidth": 1}, "encoding": {"x": {"datum": -0.4, "axis": null}, "x2": {"datum": 152.5}, "y": {"datum": -50, "axis": null}}},
      {"mark": {"type": "rule", "color": "#8fe58f", "strokeWidth": 2}, "encoding": {"x": {"datum": -0.4, "axis": null}, "x2": {"datum": 152.5}, "y": {"datum": -100, "axis": null}}},
      {"data": {"name": "flab"}, "mark": {"type": "text", "align": "left", "baseline": "middle", "font": "Liberation Mono", "fontSize": 8.5, "color": "#333333"},
       "encoding": {"x": {"datum": 153.4, "axis": null}, "y": {"field": "p", "type": "quantitative", "axis": null}, "text": {"field": "p", "type": "quantitative"}}},
      {"data": {"name": "frs"}, "mark": {"type": "line", "color": "#b5764f", "strokeWidth": 1.2, "interpolate": "monotone"},
       "encoding": {"x": {"field": "i", "type": "quantitative", "axis": null}, "y": {"field": "v", "type": "quantitative", "axis": null}}},
      {"data": {"name": "bars"}, "mark": {"type": "line", "color": "#2222dd", "strokeWidth": 2},
       "encoding": {"x": {"field": "i", "type": "quantitative", "axis": null}, "y": {"field": "f", "type": "quantitative", "axis": null}}},
      {"mark": {"type": "rect", "color": "white"},
       "encoding": {"x": {"datum": 0.39, "axis": null}, "x2": {"datum": 12.2}, "y": {"datum": 464, "axis": null}, "y2": {"datum": 523}}},
      {"mark": {"type": "text", "align": "left", "baseline": "middle", "fontSize": 9, "color": "#333333", "text": "Frontrunner 163.7"},
       "encoding": {"x": {"datum": 0.7, "axis": null}, "y": {"datum": 492.5, "axis": null}}}
    ]
  },
  {
    "width": 970, "height": 123,
    "data": {"values": [{}]},
    "layer": [
      {"mark": {"type": "rule", "color": "#c2c2c2", "strokeWidth": 2},
       "encoding": {"x": {"datum": -0.4, "scale": {"domain": [-0.4, 152.1], "nice": false, "zero": false}, "axis": null}, "x2": {"datum": 160.6},
         "y": {"datum": 22.36, "scale": {"domain": [-30.53, 22.58], "nice": false, "zero": false}, "axis": null}}},
      {"data": {"name": "ticks"}, "mark": {"type": "rule", "color": "#e6e6e6", "strokeWidth": 1},
       "encoding": {"x": {"field": "i", "type": "quantitative", "axis": null}}},
      {"mark": {"type": "rule", "color": "#b8b8b8", "strokeWidth": 2}, "encoding": {"x": {"datum": -0.4, "axis": null}, "x2": {"datum": 152.5}, "y": {"datum": 20.8597, "axis": null}}},
      {"mark": {"type": "rule", "color": "#a0a0a0", "strokeWidth": 1}, "encoding": {"x": {"datum": -0.4, "axis": null}, "x2": {"datum": 152.5}, "y": {"datum": 0, "axis": null}}},
      {"mark": {"type": "rule", "color": "#b8b8b8", "strokeWidth": 2}, "encoding": {"x": {"datum": -0.4, "axis": null}, "x2": {"datum": 152.5}, "y": {"datum": -28.07904, "axis": null}}},
      {"data": {"name": "mlab"}, "mark": {"type": "text", "align": "left", "baseline": "middle", "font": "Liberation Mono", "fontSize": 8.5, "color": "#333333"},
       "encoding": {"x": {"datum": 153.4, "axis": null}, "y": {"field": "p", "type": "quantitative", "axis": null}, "text": {"field": "t"}}},
      {"data": {"name": "bars"},
       "transform": [{"window": [{"op": "lag", "field": "m", "as": "pm"}], "sort": [{"field": "i", "order": "ascending"}]}],
       "mark": {"type": "bar", "width": 5},
       "encoding": {"x": {"field": "i", "type": "quantitative", "axis": null}, "y": {"field": "m", "type": "quantitative", "axis": null}, "y2": {"datum": 0},
         "color": {"condition": [{"test": "datum.m >= 0 && datum.m >= datum.pm", "value": "#00cc00"}, {"test": "datum.m >= 0", "value": "#009900"}, {"test": "datum.m < datum.pm", "value": "#a80000"}], "value": "#dd0000"}}},
      {"data": {"name": "sig"}, "mark": {"type": "line", "color": "#5252ee", "strokeWidth": 1, "interpolate": "monotone"},
       "encoding": {"x": {"field": "i", "type": "quantitative", "axis": null}, "y": {"field": "v", "type": "quantitative", "axis": null}}},
      {"data": {"name": "macd"}, "mark": {"type": "line", "color": "#111111", "strokeWidth": 1.8},
       "encoding": {"x": {"field": "i", "type": "quantitative", "axis": null}, "y": {"field": "v", "type": "quantitative", "axis": null}}},
      {"mark": {"type": "text", "align": "left", "baseline": "middle", "fontSize": 9, "color": "#333333", "text": "MACD -5.4"},
       "encoding": {"x": {"datum": 0.7, "axis": null}, "y": {"datum": 18.0, "axis": null}}}
    ]
  },
  {
    "width": 970, "height": 51,
    "data": {"values": [{}]},
    "layer": [
      {"mark": {"type": "rule", "color": "#c2c2c2", "strokeWidth": 2},
       "encoding": {"x": {"datum": -0.4, "scale": {"domain": [-0.4, 152.1], "nice": false, "zero": false}, "axis": null}, "x2": {"datum": 160.6},
         "y": {"datum": 60.65, "scale": {"domain": [-0.64, 61.26], "nice": false, "zero": false}, "axis": null}}},
      {"data": {"name": "ticks"}, "mark": {"type": "rule", "color": "#e6e6e6", "strokeWidth": 1},
       "encoding": {"x": {"field": "i", "type": "quantitative", "axis": null}}},
      {"mark": {"type": "rule", "color": "#e2e2e2", "strokeWidth": 1}, "encoding": {"x": {"datum": -0.4, "axis": null}, "x2": {"datum": 152.5}, "y": {"datum": 5.0, "axis": null}}},
      {"data": {"name": "bars"}, "mark": {"type": "bar", "width": 4.5, "color": "#11cc11"},
       "encoding": {"x": {"field": "i", "type": "quantitative", "axis": null}, "y": {"field": "v", "type": "quantitative", "axis": null}, "y2": {"datum": 5.0}}},
      {"data": {"name": "vlab"}, "mark": {"type": "text", "align": "left", "baseline": "middle", "font": "Liberation Mono", "fontSize": 8.5, "color": "#333333"},
       "encoding": {"x": {"datum": 153.4, "axis": null}, "y": {"field": "p", "type": "quantitative", "axis": null}, "text": {"field": "t"}}},
      {"mark": {"type": "text", "align": "left", "baseline": "middle", "fontSize": 9, "color": "#333333", "text": "Volume: 8757900"},
       "encoding": {"x": {"datum": 0.7, "axis": null}, "y": {"datum": 47.9, "axis": null}}}
    ]
  },
  {
    "width": 970, "height": 21,
    "data": {"values": [{}]},
    "layer": [
      {"mark": {"type": "rule", "color": "#c2c2c2", "strokeWidth": 2},
       "encoding": {"x": {"datum": -0.4, "scale": {"domain": [-0.4, 152.1], "nice": false, "zero": false}, "axis": null}, "x2": {"datum": 160.6},
         "y": {"datum": 1.41, "scale": {"domain": [-0.4545, 1.4545], "nice": false, "zero": false}, "axis": null}}},
      {"data": {"name": "fx1"}, "mark": {"type": "rect"},
       "encoding": {"x": {"field": "s", "type": "quantitative", "axis": null}, "x2": {"field": "e"}, "y": {"datum": 0, "axis": null}, "y2": {"datum": 1},
         "color": {"field": "v", "type": "quantitative", "legend": null, "scale": {"domain": [0,1,2,3,4,5,6,7,8,9,10,11,12,13], "range": ["#780000","#990000","#c80000","#cc3300","#cc6600","#cc8800","#ccaa00","#cccc00","#aacc00","#88cc00","#55c000","#22b000","#109810","#007000"]}}}},
      {"mark": {"type": "rect", "fill": "white", "fillOpacity": 0.85, "stroke": "#cfcfcf", "strokeWidth": 1},
       "encoding": {"x": {"datum": 0.07, "axis": null}, "x2": {"datum": 7.78}, "y": {"datum": -0.18, "axis": null}, "y2": {"datum": 0.727}}},
      {"mark": {"type": "text", "align": "left", "baseline": "middle", "fontSize": 9, "color": "#333333", "text": "FXC1 77.4"},
       "encoding": {"x": {"datum": 0.75, "axis": null}, "y": {"datum": 0.27, "axis": null}}}
    ]
  },
  {
    "width": 970, "height": 23,
    "data": {"values": [{}]},
    "layer": [
      {"mark": {"type": "rule", "color": "#c2c2c2", "strokeWidth": 2},
       "encoding": {"x": {"datum": -0.4, "scale": {"domain": [-0.4, 152.1], "nice": false, "zero": false}, "axis": null}, "x2": {"datum": 160.6},
         "y": {"datum": 1.346, "scale": {"domain": [-0.3846, 1.3846], "nice": false, "zero": false}, "axis": null}}},
      {"data": {"name": "fx2"}, "mark": {"type": "rect"},
       "encoding": {"x": {"field": "s", "type": "quantitative", "axis": null}, "x2": {"field": "e"}, "y": {"datum": 0, "axis": null}, "y2": {"datum": 1},
         "color": {"field": "v", "type": "quantitative", "legend": null, "scale": {"domain": [0,1,2,3,4,5,6,7,8,9,10,11,12,13], "range": ["#780000","#990000","#c80000","#cc3300","#cc6600","#cc8800","#ccaa00","#cccc00","#aacc00","#88cc00","#55c000","#22b000","#109810","#007000"]}}}},
      {"mark": {"type": "rect", "fill": "white", "fillOpacity": 0.85, "stroke": "#cfcfcf", "strokeWidth": 1},
       "encoding": {"x": {"datum": 0.07, "axis": null}, "x2": {"datum": 7.78}, "y": {"datum": -0.077, "axis": null}, "y2": {"datum": 1.0}}},
      {"mark": {"type": "text", "align": "left", "baseline": "middle", "fontSize": 9, "color": "#333333", "text": "FXC2 63.4"},
       "encoding": {"x": {"datum": 0.75, "axis": null}, "y": {"datum": 0.46, "axis": null}}}
    ]
  },
  {
    "width": 970, "height": 23,
    "data": {"values": [{}]},
    "layer": [
      {"mark": {"type": "rule", "color": "#c2c2c2", "strokeWidth": 2},
       "encoding": {"x": {"datum": -0.4, "scale": {"domain": [-0.4, 152.1], "nice": false, "zero": false}, "axis": null}, "x2": {"datum": 160.6},
         "y": {"datum": 1.324, "scale": {"domain": [0, 1.353], "nice": false, "zero": false}, "axis": null}}},
      {"data": {"name": "tf"}, "mark": {"type": "rect"},
       "encoding": {"x": {"field": "s", "type": "quantitative", "axis": null}, "x2": {"field": "e"}, "y": {"datum": 0, "axis": null}, "y2": {"datum": 1},
         "color": {"condition": [{"test": "datum.v === 12", "value": "#008a00"}, {"test": "datum.v === 7", "value": "#c8c800"}], "value": "#00c400"}}},
      {"mark": {"type": "rect", "fill": "white", "fillOpacity": 0.8, "stroke": "#cfcfcf", "strokeWidth": 1},
       "encoding": {"x": {"datum": 0.07, "axis": null}, "x2": {"datum": 12.18}, "y": {"datum": 0.176, "axis": null}, "y2": {"datum": 0.82}}},
      {"mark": {"type": "text", "align": "left", "baseline": "middle", "fontSize": 9, "color": "#333333", "text": "Trend Factor 13.0"},
       "encoding": {"x": {"datum": 0.75, "axis": null}, "y": {"datum": 0.5, "axis": null}}},
      {"data": {"name": "ticks"}, "mark": {"type": "text", "align": "center", "baseline": "middle", "font": "Liberation Mono", "fontSize": 8.5, "color": "#333333"},
       "encoding": {"x": {"field": "i", "type": "quantitative", "axis": null}, "y": {"datum": -0.3, "axis": null}, "text": {"field": "d"}}}
    ]
  }
]
}
